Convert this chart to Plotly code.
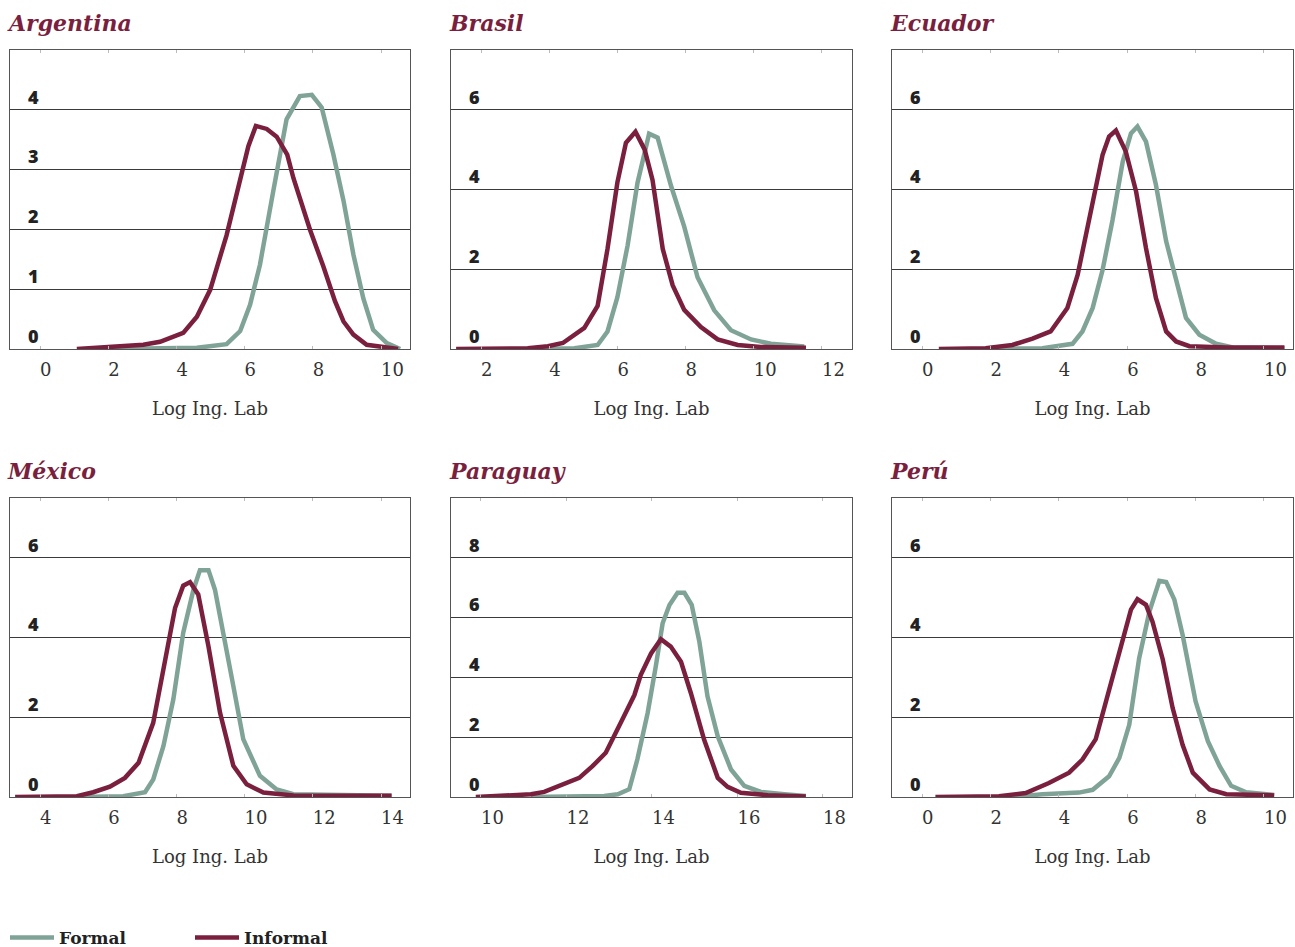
import plotly.graph_objects as go

# ---------------- data ----------------
countries = ["Argentina", "Brasil", "Ecuador", "México", "Paraguay", "Perú"]
x_axis_title = "Log Ing. Lab"
series_names = ["Formal", "Informal"]

arg_formal_x = [2.0, 4.6, 5.47, 5.87, 6.16, 6.45, 6.84, 7.23, 7.62, 7.97, 8.26, 8.6, 8.9, 9.19, 9.48, 9.77, 10.17, 10.56]
arg_formal_y = [0.0, 0.02, 0.08, 0.3, 0.74, 1.41, 2.64, 3.84, 4.23, 4.25, 4.04, 3.26, 2.48, 1.58, 0.85, 0.32, 0.1, 0.0]
arg_informal_x = [1.08, 3.03, 3.52, 4.2, 4.6, 4.99, 5.47, 5.87, 6.11, 6.33, 6.65, 6.94, 7.25, 7.43, 7.62, 7.92, 8.31, 8.65, 8.9, 9.19, 9.58, 10.5]
arg_informal_y = [0.0, 0.07, 0.12, 0.27, 0.54, 0.99, 1.9, 2.83, 3.39, 3.73, 3.68, 3.55, 3.25, 2.86, 2.53, 1.99, 1.38, 0.8, 0.46, 0.24, 0.07, 0.0]

bra_formal_x = [3.56, 4.74, 5.42, 5.71, 6.0, 6.3, 6.59, 6.93, 7.18, 7.57, 7.96, 8.35, 8.84, 9.33, 9.92, 10.5, 11.48]
bra_formal_y = [0.0, 0.02, 0.1, 0.44, 1.3, 2.6, 4.17, 5.4, 5.3, 4.1, 3.07, 1.8, 0.97, 0.47, 0.24, 0.13, 0.06]
bra_informal_x = [1.27, 3.37, 3.96, 4.4, 5.03, 5.42, 5.71, 6.0, 6.25, 6.53, 6.8, 7.03, 7.33, 7.62, 7.96, 8.45, 8.94, 9.53, 10.2, 11.53]
bra_informal_y = [0.0, 0.02, 0.07, 0.15, 0.53, 1.08, 2.51, 4.18, 5.17, 5.45, 5.0, 4.24, 2.51, 1.6, 0.98, 0.55, 0.24, 0.1, 0.05, 0.03]

ecu_formal_x = [2.05, 3.52, 4.4, 4.69, 4.99, 5.28, 5.57, 5.87, 6.11, 6.3, 6.55, 6.84, 7.14, 7.43, 7.72, 8.11, 8.6, 9.09, 10.6]
ecu_formal_y = [0.0, 0.02, 0.13, 0.44, 1.03, 1.98, 3.23, 4.7, 5.41, 5.58, 5.2, 4.12, 2.7, 1.78, 0.78, 0.36, 0.13, 0.04, 0.02]
ecu_informal_x = [0.49, 1.86, 2.64, 3.23, 3.76, 4.25, 4.55, 4.84, 5.08, 5.28, 5.47, 5.67, 5.96, 6.26, 6.55, 6.84, 7.14, 7.43, 7.82, 8.9, 10.6]
ecu_informal_y = [0.0, 0.02, 0.1, 0.26, 0.44, 1.03, 1.86, 3.03, 3.95, 4.87, 5.33, 5.48, 4.95, 3.95, 2.53, 1.28, 0.44, 0.19, 0.07, 0.04, 0.04]

mex_formal_x = [5.08, 6.44, 7.08, 7.32, 7.62, 7.91, 8.2, 8.5, 8.69, 8.94, 9.13, 9.38, 9.67, 9.96, 10.45, 10.94, 11.43, 14.31]
mex_formal_y = [0.0, 0.02, 0.12, 0.44, 1.28, 2.45, 4.12, 5.2, 5.69, 5.69, 5.2, 4.12, 2.78, 1.45, 0.53, 0.19, 0.07, 0.03]
mex_informal_x = [3.27, 5.08, 5.56, 6.05, 6.49, 6.89, 7.32, 7.67, 7.96, 8.2, 8.4, 8.64, 8.94, 9.28, 9.67, 10.06, 10.55, 11.43, 14.31]
mex_informal_y = [0.0, 0.02, 0.12, 0.26, 0.48, 0.86, 1.86, 3.45, 4.74, 5.3, 5.39, 5.08, 3.78, 2.11, 0.78, 0.32, 0.11, 0.04, 0.03]

par_formal_x = [11.17, 12.88, 13.2, 13.47, 13.66, 13.9, 14.09, 14.25, 14.41, 14.6, 14.76, 14.93, 15.11, 15.3, 15.54, 15.85, 16.16, 16.55, 17.1, 17.6]
par_formal_y = [0.0, 0.03, 0.09, 0.26, 1.26, 2.81, 4.37, 5.81, 6.42, 6.83, 6.83, 6.43, 5.19, 3.37, 2.03, 0.92, 0.37, 0.17, 0.09, 0.03]
par_informal_x = [9.88, 11.17, 11.48, 11.87, 12.3, 12.61, 12.92, 13.27, 13.59, 13.74, 13.98, 14.21, 14.44, 14.68, 14.91, 15.22, 15.54, 15.77, 16.08, 16.71, 17.6]
par_informal_y = [0.0, 0.09, 0.17, 0.39, 0.64, 1.03, 1.48, 2.48, 3.41, 4.09, 4.8, 5.28, 5.03, 4.52, 3.48, 1.92, 0.64, 0.34, 0.14, 0.06, 0.02]

per_formal_x = [2.64, 3.52, 4.59, 4.99, 5.47, 5.77, 6.06, 6.35, 6.65, 6.94, 7.14, 7.38, 7.62, 8.0, 8.36, 8.7, 9.04, 9.48, 10.3]
per_formal_y = [0.0, 0.07, 0.11, 0.18, 0.52, 0.98, 1.81, 3.48, 4.65, 5.42, 5.39, 4.95, 4.07, 2.4, 1.4, 0.78, 0.28, 0.12, 0.05]
per_informal_x = [0.39, 2.25, 3.03, 3.71, 4.3, 4.69, 5.08, 5.47, 5.87, 6.11, 6.3, 6.55, 6.74, 7.04, 7.33, 7.62, 7.92, 8.41, 8.9, 10.3]
per_informal_y = [0.0, 0.02, 0.1, 0.35, 0.61, 0.94, 1.45, 2.65, 3.98, 4.7, 4.96, 4.82, 4.4, 3.45, 2.23, 1.31, 0.61, 0.19, 0.07, 0.04]

# axis ticks per panel
x_tickvals = [[0, 2, 4, 6, 8, 10], [2, 4, 6, 8, 10, 12], [0, 2, 4, 6, 8, 10],
              [4, 6, 8, 10, 12, 14], [10, 12, 14, 16, 18], [0, 2, 4, 6, 8, 10]]
y_tickvals = [[0, 1, 2, 3, 4], [0, 2, 4, 6], [0, 2, 4, 6],
              [0, 2, 4, 6], [0, 2, 4, 6, 8], [0, 2, 4, 6]]
x_ranges = [[-0.88, 10.85], [1.12, 12.88], [-0.88, 10.85],
            [3.12, 14.85], [9.3, 18.68], [-0.88, 10.85]]
y_ranges = [[0, 5], [0, 7.5], [0, 7.5], [0, 7.5], [0, 10], [0, 7.5]]

formal_x = [arg_formal_x, bra_formal_x, ecu_formal_x, mex_formal_x, par_formal_x, per_formal_x]
formal_y = [arg_formal_y, bra_formal_y, ecu_formal_y, mex_formal_y, par_formal_y, per_formal_y]
informal_x = [arg_informal_x, bra_informal_x, ecu_informal_x, mex_informal_x, par_informal_x, per_informal_x]
informal_y = [arg_informal_y, bra_informal_y, ecu_informal_y, mex_informal_y, par_informal_y, per_informal_y]

# ---------------- style ----------------
W, H = 1295, 947
FORMAL = "#80a397"
INFORMAL = "#7a1f3e"
TITLE_C = "#7a1f3e"
GRID = "#3a3a3a"
SERIF = "DejaVu Serif"
SANS = "Open Sans"

col_px = [(10, 410), (451, 852), (892, 1293)]
row_px = [(50, 349), (498, 797)]
title_pos = [(5, 23), (447, 23), (888, 23), (5, 471), (447, 471), (888, 471)]

FS = "\u2007"  # figure space: makes labels start at the tick, as in the reference

fig = go.Figure()
for i, name in enumerate(countries):
    sfx = "" if i == 0 else str(i + 1)
    fig.add_trace(go.Scatter(x=formal_x[i], y=formal_y[i], xaxis="x" + sfx, yaxis="y" + sfx,
                             mode="lines", name=series_names[0], legendgroup="f",
                             showlegend=(i == 0), line=dict(color=FORMAL, width=4.5)))
    fig.add_trace(go.Scatter(x=informal_x[i], y=informal_y[i], xaxis="x" + sfx, yaxis="y" + sfx,
                             mode="lines", name=series_names[1], legendgroup="i",
                             showlegend=(i == 0), line=dict(color=INFORMAL, width=4.5)))

    r, c = divmod(i, 3)
    x0, x1 = col_px[c]
    y0, y1 = row_px[r]
    ticktext = [FS * len(str(v)) + str(v) for v in x_tickvals[i]]
    fig.layout["xaxis" + sfx] = dict(
        domain=[x0 / W, x1 / W], range=x_ranges[i], anchor="y" + sfx,
        tickvals=x_tickvals[i], ticktext=ticktext, showgrid=False, zeroline=False,
        showline=True, linecolor="#555", linewidth=1.2, mirror="allticks",
        ticks="inside", ticklen=3, tickcolor="#bbb", ticklabelstandoff=4,
        tickfont=dict(family=SERIF, size=18, color="#333"),
        title=dict(text=x_axis_title, font=dict(family=SERIF, size=18, color="#333"), standoff=23),
        fixedrange=True)
    fig.layout["yaxis" + sfx] = dict(
        domain=[1 - y1 / H, 1 - y0 / H], range=y_ranges[i], anchor="x" + sfx,
        tickvals=y_tickvals[i], showgrid=True, gridcolor=GRID, gridwidth=1,
        zeroline=False, showline=True, linecolor="#555", linewidth=1.2, mirror=True,
        ticks="", ticklabelposition="inside top", ticklabelstandoff=18,
        tickfont=dict(family=SANS, size=18, color="#222", weight=800),
        fixedrange=True)
    tx, ty = title_pos[i]
    fig.add_annotation(text="<b><i>" + name + "</i></b>", xref="paper", yref="paper",
                       x=tx / W, y=1 - ty / H, xanchor="left", yanchor="middle",
                       showarrow=False, font=dict(family=SERIF, size=22, color=TITLE_C))

fig.update_layout(
    width=W, height=H, margin=dict(l=0, r=0, t=0, b=0, autoexpand=False),
    plot_bgcolor="white", paper_bgcolor="white",
    showlegend=True,
    legend=dict(orientation="h", x=5 / W, y=1 - 938 / H, xanchor="left", yanchor="middle",
                itemwidth=44, entrywidth=126, entrywidthmode="pixels",
                font=dict(family=SERIF, size=17, color="#222", weight="bold"),
                bgcolor="rgba(0,0,0,0)"),
)

fig.write_html("out.html", config={"displayModeBar": False},
               post_script="document.body.style.margin='0';document.body.style.overflow='hidden';")
